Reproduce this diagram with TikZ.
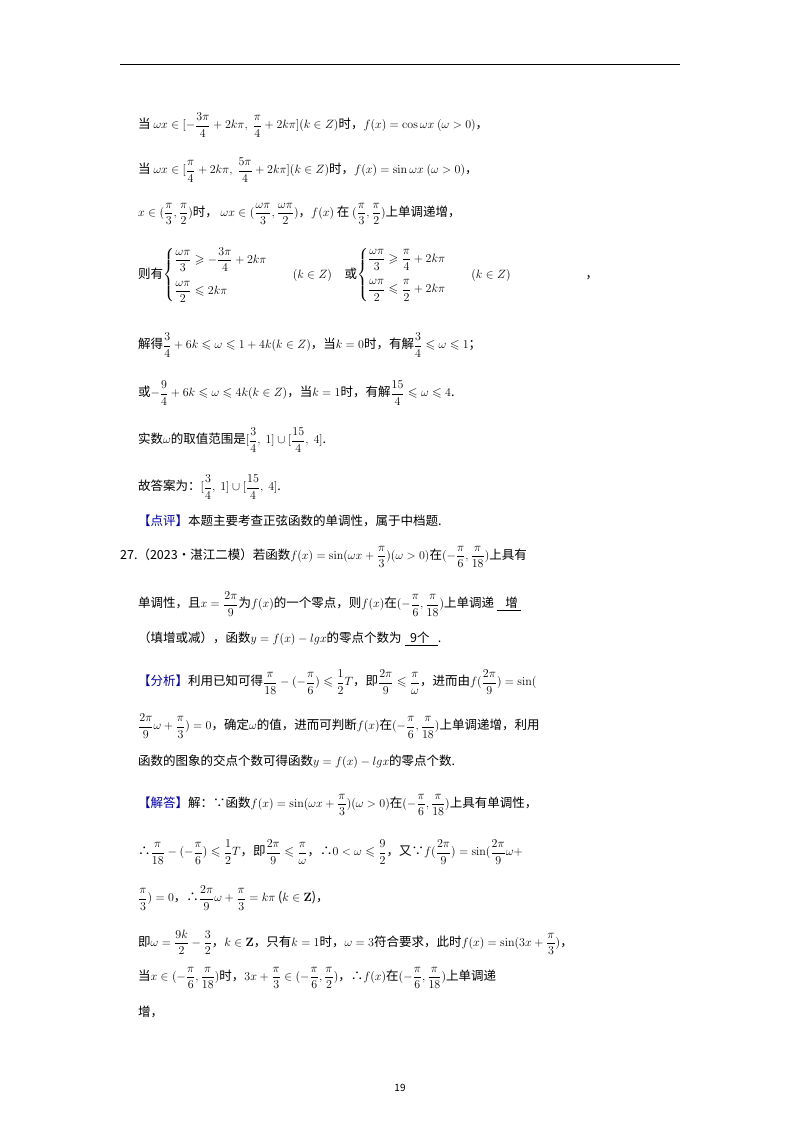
\documentclass[tikz,border=0pt]{standalone}
\usepackage{amsmath,amssymb}
\usepackage[no-math]{fontspec}
\setmainfont{Noto Sans CJK SC}
\everymath{\displaystyle}
\begin{document}
\begin{tikzpicture}[x=1pt,y=1pt,
  ln/.style={anchor=west,inner sep=0pt,font=\fontsize{12.5}{15}\selectfont}]
\useasboundingbox (0,0) rectangle (800,-1132);
\fill[white] (0,0) rectangle (800,-1132);
\draw[line width=1pt] (120,-65) -- (680,-65);
\node[ln] (l1) at (138,-125) {当 $\omega x\in[-\frac{3\pi}{4}+2k\pi,\ \frac{\pi}{4}+2k\pi](k\in Z)$时，$f(x)=\cos\omega x\ (\omega>0)$，};
\node[ln] (l2) at (138,-170) {当 $\omega x\in[\frac{\pi}{4}+2k\pi,\ \frac{5\pi}{4}+2k\pi](k\in Z)$时，$f(x)=\sin\omega x\ (\omega>0)$，};
\node[ln] (l3) at (138,-214) {$x\in(\frac{\pi}{3},\frac{\pi}{2})$时，\ $\omega x\in(\frac{\omega\pi}{3},\frac{\omega\pi}{2})$，$f(x)$ 在 $(\frac{\pi}{3},\frac{\pi}{2})$上单调递增，};
\node[ln] (l4) at (138,-275) {则有$\begin{cases}\dfrac{\omega\pi}{3}\geqslant-\dfrac{3\pi}{4}+2k\pi\\[12pt] \dfrac{\omega\pi}{2}\leqslant2k\pi\end{cases}$\quad $(k\in Z)$\quad 或$\begin{cases}\dfrac{\omega\pi}{3}\geqslant\dfrac{\pi}{4}+2k\pi\\[12pt] \dfrac{\omega\pi}{2}\leqslant\dfrac{\pi}{2}+2k\pi\end{cases}$\quad $(k\in Z)$\qquad\qquad\qquad ，};
\node[ln] (l5) at (138,-345) {解得$\frac{3}{4}+6k\leqslant\omega\leqslant1+4k(k\in Z)$，当$k=0$时，有解$\frac{3}{4}\leqslant\omega\leqslant1$；};
\node[ln] (l6) at (138,-393) {或$-\frac{9}{4}+6k\leqslant\omega\leqslant4k(k\in Z)$，当$k=1$时，有解$\frac{15}{4}\leqslant\omega\leqslant4$.};
\node[ln] (l7) at (138,-440) {实数$\omega$的取值范围是$[\frac{3}{4},\ 1]\cup[\frac{15}{4},\ 4]$.};
\node[ln] (l8) at (138,-487) {故答案为：$[\frac{3}{4},\ 1]\cup[\frac{15}{4},\ 4]$.};
\node[ln] (l9) at (138,-521) {\textcolor{blue!70!black}{【点评】}本题主要考查正弦函数的单调性，属于中档题.};
\node[ln] (l10) at (120,-557) {27.（2023•湛江二模）若函数$f(x)=\sin(\omega x+\frac{\pi}{3})(\omega>0)$在$(-\frac{\pi}{6},\frac{\pi}{18})$上具有};
\node[ln] (l11) at (138,-604) {单调性，且$x=\frac{2\pi}{9}$为$f(x)$的一个零点，则$f(x)$在$(-\frac{\pi}{6},\frac{\pi}{18})$上单调递\ \underline{\ \ \ 增\ }};
\node[ln] (l12) at (138,-639) {（填增或减），函数$y=f(x)-lgx$的零点个数为\ \underline{\ \ 9个\ \ \ }.};
\node[ln] (l13) at (138,-682) {\textcolor{blue!70!black}{【分析】}利用已知可得$\frac{\pi}{18}-(-\frac{\pi}{6})\leqslant\frac{1}{2}T$，即$\frac{2\pi}{9}\leqslant\frac{\pi}{\omega}$，进而由$f(\frac{2\pi}{9})=\sin($};
\node[ln] (l14) at (138,-726) {$\frac{2\pi}{9}\omega+\frac{\pi}{3})=0$，确定$\omega$的值，进而可判断$f(x)$在$(-\frac{\pi}{6},\frac{\pi}{18})$上单调递增，利用};
\node[ln] (l15) at (138,-762) {函数的图象的交点个数可得函数$y=f(x)-lgx$的零点个数.};
\node[ln] (l16) at (138,-805) {\textcolor{blue!70!black}{【解答】}解：∵函数$f(x)=\sin(\omega x+\frac{\pi}{3})(\omega>0)$在$(-\frac{\pi}{6},\frac{\pi}{18})$上具有单调性，};
\node[ln] (l17) at (138,-852) {∴$\frac{\pi}{18}-(-\frac{\pi}{6})\leqslant\frac{1}{2}T$，即$\frac{2\pi}{9}\leqslant\frac{\pi}{\omega}$，∴$0<\omega\leqslant\frac{9}{2}$，又∵$f(\frac{2\pi}{9})=\sin(\frac{2\pi}{9}\omega+$};
\node[ln] (l18) at (138,-898) {$\frac{\pi}{3})=0$，∴$\frac{2\pi}{9}\omega+\frac{\pi}{3}=k\pi$\ ($k\in\mathbf{Z}$)，};
\node[ln] (l19) at (138,-942) {即$\omega=\frac{9k}{2}-\frac{3}{2}$，$k\in\mathbf{Z}$，只有$k=1$时，$\omega=3$符合要求，此时$f(x)=\sin(3x+\frac{\pi}{3})$，};
\node[ln] (l20) at (138,-978) {当$x\in(-\frac{\pi}{6},\frac{\pi}{18})$时，$3x+\frac{\pi}{3}\in(-\frac{\pi}{6},\frac{\pi}{2})$，∴$f(x)$在$(-\frac{\pi}{6},\frac{\pi}{18})$上单调递};
\node[ln] (l21) at (138,-1012) {增，};
\node[ln,anchor=center,font=\fontsize{10}{12}\selectfont] (pg) at (400,-1088) {19};
\end{tikzpicture}
\end{document}
